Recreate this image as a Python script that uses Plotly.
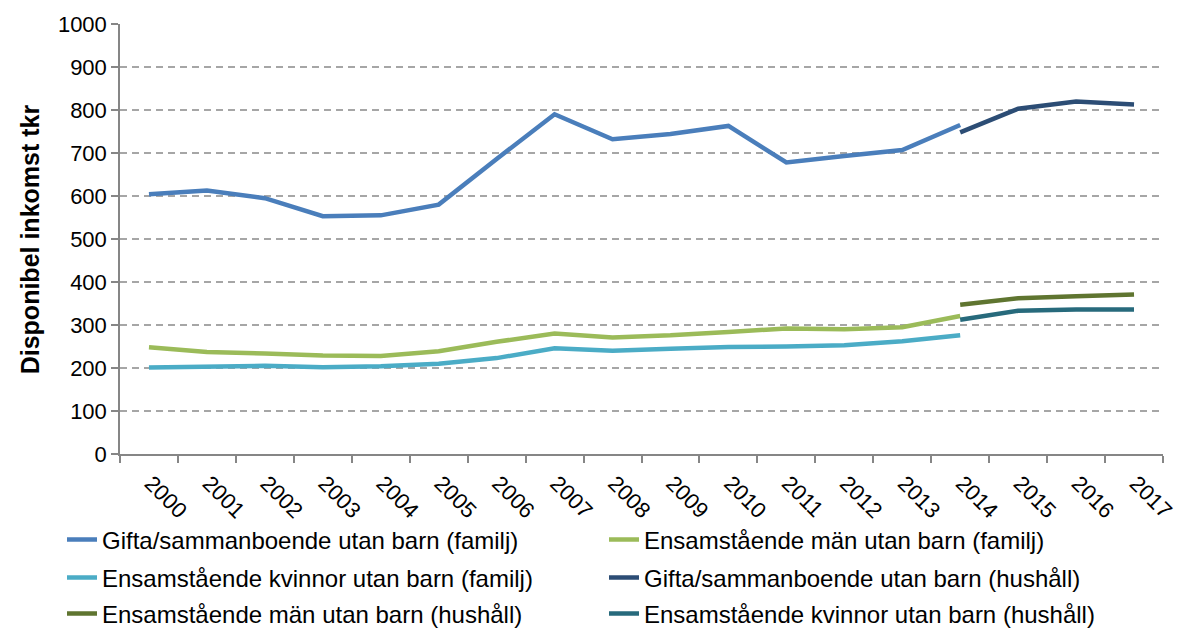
import plotly.graph_objects as go

years = [str(y) for y in range(2000, 2018)]

# familj series 2000-2014, hushåll series 2014-2017
gifta_familj = [604, 613, 595, 553, 555, 580, 686, 790, 732, 744, 763, 678, 693, 707, 765]
man_familj = [248, 237, 234, 229, 228, 239, 261, 280, 271, 276, 284, 292, 290, 295, 321]
kvinnor_familj = [201, 202, 205, 202, 204, 210, 223, 246, 240, 245, 249, 250, 253, 262, 276]
gifta_hushall = [748, 803, 820, 813]
man_hushall = [347, 362, 367, 371]
kvinnor_hushall = [312, 333, 336, 336]

yrs_familj = years[:15]
yrs_hushall = years[14:]

FONT = "Arial, Liberation Sans, sans-serif"

series = [
    ("Gifta/sammanboende utan barn (familj)", yrs_familj, gifta_familj, "#4A7EBB"),
    ("Ensamstående män utan barn (familj)", yrs_familj, man_familj, "#9BBB59"),
    ("Ensamstående kvinnor utan barn (familj)", yrs_familj, kvinnor_familj, "#4BACC6"),
    ("Gifta/sammanboende utan barn (hushåll)", yrs_hushall, gifta_hushall, "#2C4D75"),
    ("Ensamstående män utan barn (hushåll)", yrs_hushall, man_hushall, "#5F7530"),
    ("Ensamstående kvinnor utan barn (hushåll)", yrs_hushall, kvinnor_hushall, "#276A7C"),
]

# page body has an 8px margin, so the figure is 8px smaller than the window
W, H = 1179, 621

# one legend box per entry: two columns, three rows (figure pixels)
leg_x = [54, 596]
leg_y = [532, 570, 606]

fig = go.Figure()
legends = {}
for i, (name, xs, ys, col) in enumerate(series):
    key = f"legend{i + 2}"
    fig.add_trace(go.Scatter(
        x=xs, y=ys, name=name, mode="lines",
        line=dict(color=col, width=4.5),
        legend=key,
    ))
    legends[key] = dict(
        orientation="h", xref="container", yref="container",
        x=leg_x[i % 2] / W, y=1 - leg_y[i // 2] / H,
        xanchor="left", yanchor="middle",
        font=dict(family=FONT, size=24, color="#000000"),
        bgcolor="rgba(0,0,0,0)",
    )

fig.update_layout(
    width=W, height=H,
    margin=dict(l=112, r=24, t=16, b=175, autoexpand=False),
    paper_bgcolor="white", plot_bgcolor="white",
    font=dict(family=FONT, size=22, color="#000000"),
    xaxis=dict(
        type="category", categoryorder="array", categoryarray=years,
        range=[-0.5, 17.5],
        showline=True, linecolor="#868686", linewidth=1.5,
        ticks="outside", tickson="boundaries", ticklen=7, tickcolor="#868686", tickwidth=1.5,
        tickangle=45, ticklabelshift=2, ticklabelstandoff=6,
        showgrid=False, automargin=False,
        tickfont=dict(family=FONT, size=22, color="#000000"),
    ),
    yaxis=dict(
        range=[0, 1000], dtick=100,
        showline=True, linecolor="#868686", linewidth=1.5,
        ticks="outside", ticklen=7, tickcolor="#868686", tickwidth=1.5,
        showgrid=True, gridcolor="#A6A6A6", gridwidth=1.5, griddash="7px,5px",
        zeroline=False, automargin=False,
        tickfont=dict(family=FONT, size=22, color="#000000"),
    ),
    annotations=[dict(
        text="<b>Disponibel inkomst tkr</b>", textangle=-90,
        xref="paper", yref="paper", x=-0.086, y=0.5,
        xanchor="center", yanchor="middle", showarrow=False,
        font=dict(family=FONT, size=25, color="#000000"),
    )],
    **legends,
)

fig.write_html("out.html")
